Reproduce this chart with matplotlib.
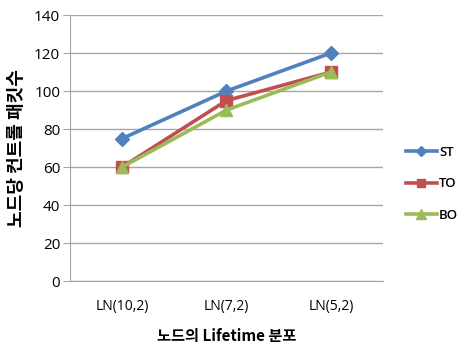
import matplotlib
matplotlib.use('Agg')
import matplotlib.pyplot as plt

# lifetime distribution of nodes vs. control packets per node
categories = ['LN(10,2)', 'LN(7,2)', 'LN(5,2)']
st_values = [75, 100, 120]
to_values = [60, 95, 110]
bo_values = [60, 90, 110]
y_ticks = [0, 20, 40, 60, 80, 100, 120, 140]

kr_font = ['Noto Sans CJK KR', 'DejaVu Sans']
tick_font = ['Open Sans', 'DejaVu Sans']

fig = plt.figure(figsize=(4.62, 3.47), dpi=100)
ax = fig.add_axes([0.1515, 0.19, 0.6775, 0.7666])

x = range(len(categories))
ax.plot(x, st_values, color='#4F81BD', lw=2.6, marker='D', ms=7, label='ST')
ax.plot(x, to_values, color='#C0504D', lw=2.6, marker='s', ms=8, label='TO')
ax.plot(x, bo_values, color='#9BBB59', lw=2.6, marker='^', ms=9, label='BO')

ax.set_xlim(-0.5, len(categories) - 0.5)
ax.set_ylim(0, 140)
ax.set_yticks(y_ticks)
ax.set_xticks(list(x))
ax.set_xticklabels(categories, family=tick_font, fontsize=10)
for lbl in ax.get_yticklabels():
    lbl.set_family(tick_font)
    lbl.set_fontsize(11)

ax.grid(axis='y', color='#A6A6A6', lw=1)
ax.set_axisbelow(True)
for side in ['top', 'right']:
    ax.spines[side].set_visible(False)
for side in ['left', 'bottom']:
    ax.spines[side].set_color('#A6A6A6')
ax.tick_params(axis='y', length=5, color='#A6A6A6', pad=2)
ax.tick_params(axis='x', length=0, pad=13)

ax.set_ylabel('노드당 컨트롤 패킷수', family=kr_font, fontsize=13, fontweight='bold', labelpad=6)
ax.set_xlabel('노드의 Lifetime 분포', family=kr_font, fontsize=11, fontweight='bold', labelpad=10)

leg = ax.legend(loc='center left', bbox_to_anchor=(1.03, 0.365), frameon=False,
                prop={'family': tick_font, 'size': 9.5, 'weight': 'semibold'},
                handlelength=2.4, labelspacing=1.4, handletextpad=0.15,
                borderaxespad=0.6, markerscale=0.8)

fig.savefig('out.png', dpi=100)
